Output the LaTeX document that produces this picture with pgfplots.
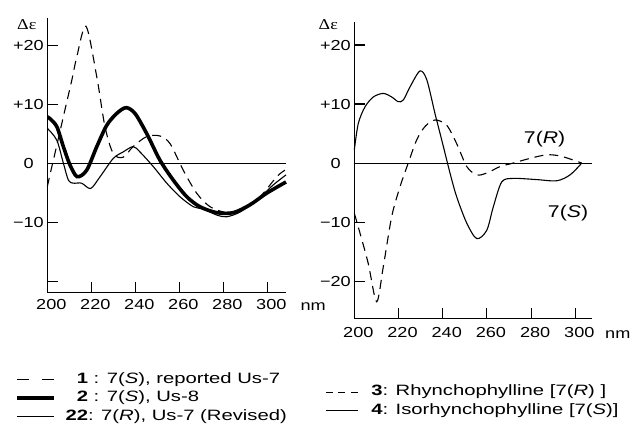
\documentclass[border=0pt]{standalone}
\usepackage{fontspec}
\setmainfont{Liberation Sans}[FakeStretch=1.25]
\newfontfamily\legfam{Liberation Sans}[FakeStretch=1.35]
\newfontfamily\grkfam{Liberation Serif}[FakeStretch=1.2]
\usepackage{pgfplots}
\pgfplotsset{compat=1.18}

\newcommand\ticfont{\fontsize{14.5bp}{16bp}\selectfont}
\newcommand\legfont{\legfam\fontsize{15bp}{17bp}\selectfont}
\newcommand\labfont{\fontsize{17bp}{19bp}\selectfont}

\pgfplotsset{
  cdpanel/.style={
    scale only axis,
    axis x line=bottom, axis y line=left,
    axis line style={-, line width=1.1bp},
    every tick/.style={black, line width=1.1bp},
    tick align=inside,
    major tick length=10.5bp,
    xmin=200,
    xtick={200,220,...,300},
    xticklabels={200,220,240,260,280,300},
    ytick={-20,-10,0,10,20},
    yticklabel style={font=\ticfont},
    clip=false,
    legend cell align=left,
    legend image code/.code={\draw[##1] (0bp,0bp) -- (\legimg,0bp);},
    legend style={draw=none, fill=none, inner sep=0pt, row sep=5.7bp,
      font=\legfont, anchor=north west,
      nodes={inner sep=0pt, text height=10bp, text depth=3bp}},
  },
  thinline/.style={black, line width=1.1bp, smooth},
  thickline/.style={black, line width=3.6bp, smooth},
  dashline/.style={black, line width=1.1bp, smooth, dash pattern=on 9bp off 6bp},
}

\begin{document}
\begin{tikzpicture}
% left panel: compounds 1, 2, 22
\def\legimg{37bp}
\begin{axis}[cdpanel,
  at={(47.3bp,139.7bp)}, anchor=south west,
  width=238.7bp, height=274.3bp,
  xmax=308.5, ymin=-21.9, ymax=24.6,
  xticklabel style={font=\ticfont, xshift=4bp, yshift=-3.5bp},
  yticklabels={,−10,0\hphantom{0},+10,+20},
  legend style={at={(-0.1353,-0.2935)},
    /tikz/every odd column/.append style={column sep=9.7bp}},
]
\addplot[dashline, legend image post style={dash pattern=on 12bp off 13bp}] coordinates {
  (200,-4.0) (201.5,-1.5) (203.5,1.7) (208,9) (211.1,14) (213.4,18)
  (217.6,23.2) (222.5,14.6) (226.2,6.2) (230,1.6) (234.5,1.0) (239,2.8)
  (245.2,4.5) (251.2,4.6) (255.8,3.3) (261.8,-1.2) (267.9,-5.1) (274,-7.4)
  (281.5,-8.4) (288,-8.1) (296.7,-5.7) (304.3,-2.3) (308,-1.2)};
\addlegendentry{\hphantom{\textbf{2}}\textbf{1} : 7(\textit{S}), reported Us-7}
\addplot[thickline] coordinates {
  (200,7.8) (201,7.6) (204.3,6.2) (207.3,2.8) (210.3,-0.3) (213.6,-2.3)
  (217.9,-1.2) (222.5,2.8) (227,6.4) (231.5,8.4) (235.8,9.4) (239.9,8.4)
  (245.2,5.0) (251.2,0.5) (257.3,-2.9) (263.4,-5.7) (269.4,-7.4) (277,-8.4)
  (284.5,-8.4) (292,-7.1) (299.7,-5.1) (308.5,-3.2)};
\addlegendentry{\hphantom{\textbf{2}}\textbf{2} : 7(\textit{S}), Us-8}
\addplot[thinline] coordinates {
  (200,5.9) (204.3,3.9) (207.3,0) (209.6,-2.9) (211.8,-3.4) (215.6,-3.4)
  (219.7,-4.3) (224,-2.3) (230,0.8) (234.5,1.9) (239,2.8) (242.1,1.9)
  (248.2,-0.6) (254.3,-3.4) (260.3,-5.7) (266.4,-7.4) (271,-7.8) (277,-8.8)
  (281.5,-9.1) (287.6,-8.3) (295.2,-6.3) (302.7,-3.7) (308.5,-2.0)};
\addlegendentry{\textbf{22}: 7(\textit{R}), Us-7 (Revised)}
\addplot[black, line width=1.1bp, forget plot] coordinates {(200,0) (308.5,0)};
\node[anchor=center, font=\grkfam\fontsize{15bp}{17bp}\selectfont]
  at (rel axis cs:0,1) [xshift=-20.5bp, yshift=-7bp] {Δε};
\node[anchor=base west, font=\ticfont]
  at (rel axis cs:1,0) [xshift=11bp, yshift=-17.7bp] {nm};
\end{axis}

% right panel: compounds 3 and 4
\def\legimg{32bp}
\begin{axis}[cdpanel,
  at={(354.3bp,113.7bp)}, anchor=south west,
  width=237.4bp, height=296.3bp,
  xmax=307.4, ymin=-26.3, ymax=23.9,
  xticklabel style={font=\ticfont, xshift=4bp, yshift=-5.5bp},
  yticklabels={−20,−10,0\hphantom{0},+10,+20},
  legend style={at={(-0.1234,-0.2268)},
    /tikz/every odd column/.append style={column sep=13bp}},
]
\addplot[dashline, legend image post style={dash pattern=on 7bp off 5.5bp}] coordinates {
  (200,-8.5) (202.6,-11.9) (206.3,-17) (210.1,-23.5) (213.1,-17.6)
  (216.9,-9.1) (220.7,-4) (224.4,0) (228.2,3.9) (232,6.2) (236.5,7.3)
  (241.8,6.4) (246.3,3.3) (250.9,-0.6) (255.4,-2.0) (259.9,-1.7)
  (265.9,-0.6) (271.9,0) (279.5,0.8) (287.1,1.4) (293.1,1.2) (299.1,0.5)
  (302.9,0)};
\addlegendentry{\textbf{3}: Rhynchophylline [7(\textit{R}) ]}
\addplot[thinline] coordinates {
  (200,2.2) (201.8,6.7) (204.8,9.5) (208.6,11.2) (213.1,11.8) (216.9,11.2)
  (219.9,10.4) (222.2,10.7) (225.2,12.9) (229.7,15.6) (232.8,14.1)
  (236.5,8.4) (240.3,2.8) (243.3,-1.7) (246.3,-5.7) (250.9,-10.2)
  (255.4,-12.8) (259.9,-11.4) (262.9,-7.4) (266.7,-3.2) (271.9,-2.6)
  (282.5,-2.8) (291.6,-3.0) (297.6,-2.0) (302.9,0)};
\addlegendentry{\textbf{4}: Isorhynchophylline [7(\textit{S})]}
\addplot[black, line width=1.1bp, forget plot] coordinates {(200,0) (307.4,0)};
\node[font=\labfont] at (axis cs:286.1,4.0) {7(\textit{R})};
\node[font=\labfont] at (axis cs:296.7,-8.5) {7(\textit{S})};
\node[anchor=center, font=\grkfam\fontsize{15bp}{17bp}\selectfont]
  at (rel axis cs:0,1) [xshift=-26bp, yshift=-3bp] {Δε};
\node[anchor=base west, font=\ticfont]
  at (rel axis cs:1,0) [xshift=10bp, yshift=-20bp] {nm};
\end{axis}
\pgfresetboundingbox
\path (0,0) rectangle (639bp,432bp);
\end{tikzpicture}
\end{document}
